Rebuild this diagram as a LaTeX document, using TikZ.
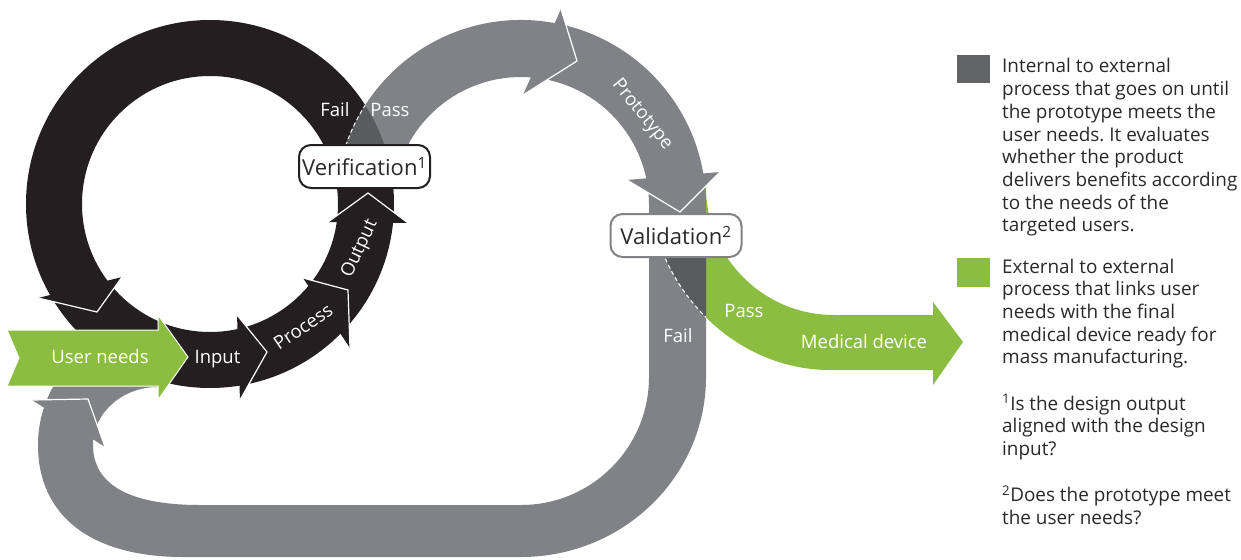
\documentclass[tikz,border=0pt]{standalone}
\usepackage{fontspec}
\setmainfont{Open Sans}
\usetikzlibrary{calc}
\definecolor{inkblack}{HTML}{231F20}
\definecolor{midgray}{HTML}{808285}
\definecolor{deepgray}{HTML}{5A5B5D}
\definecolor{keygray}{HTML}{636466}
\definecolor{leaf}{HTML}{8BBD40}
\definecolor{txtdark}{HTML}{2B2829}
\frenchspacing
\tikzset{
  lbl/.style={text=white, font=\fontsize{18.5}{22}\selectfont, inner sep=0},
  headedge/.style={draw=white, line width=1.2pt, line join=miter},
  seam/.style={draw=white, line width=1pt, dash pattern=on 4pt off 3pt},
  gatebox/.style={rounded corners=12pt, fill=white, line width=2pt,
    minimum width=131pt, minimum height=43pt, inner sep=0, text=txtdark,
    font=\fontsize{22}{26}\selectfont},
  keytext/.style={anchor=base west, inner sep=0, text=txtdark,
    font=\fontsize{18.9}{22}\selectfont},
}
\begin{document}
\begin{tikzpicture}[x=1pt,y=-1pt]
\useasboundingbox (0,0) rectangle (1241,559);
\coordinate (bc) at (210,204);   % centre of the design loop
\coordinate (gc) at (521,205);   % centre of the prototype arc

% green band: pass -> medical device
\fill[leaf] (650,205) .. controls (662,295) and (738,370) .. (830,370)
  -- (933,370) -- (933,385) -- (963,342) -- (933,302) -- (933,315) -- (834,315)
  arc[start angle=90, end angle=180, radius=128] -- cycle;

% grey return loop: fail -> back to user needs
\fill[midgray] (706,205) -- (706,377)
  arc[start angle=0, end angle=90, x radius=185, y radius=180]
  -- (183,557) .. controls (90,557) and (38,515) .. (38,445)
  arc[start angle=180, end angle=270, radius=120] -- (158,387)
  arc[start angle=270, end angle=180, x radius=65, y radius=58]
  .. controls (93,485) and (130,505) .. (200,505) -- (521,505)
  arc[start angle=90, end angle=0, radius=128] -- (649,205) -- cycle;

% overlap of the green band with the grey column
\begin{scope}
  \clip (649,214) rectangle (706,420);
  \fill[deepgray] (650,205) .. controls (662,295) and (738,370) .. (830,370)
    -- (933,370) -- (933,315) -- (834,315)
    arc[start angle=90, end angle=180, radius=128] -- cycle;
  \draw[seam] (650,205) .. controls (662,295) and (738,370) .. (830,370);
\end{scope}

% black design loop
\fill[inkblack, even odd rule] (bc) circle[radius=184] (bc) circle[radius=128];
% chevron heads on the black loop
\fill[inkblack] (237,315) -- (267,352) -- (240,400) -- cycle;
\draw[headedge] (237,315) -- (267,352) -- (240,400);
\fill[inkblack] (303,278) -- (348,290) -- (350,348) -- cycle;
\draw[headedge] (303,278) -- (348,290) -- (350,348);
\fill[inkblack] (328,222) -- (368,193) -- (408,223) -- cycle;
\draw[headedge] (328,222) -- (368,193) -- (408,223);
\fill[inkblack] (122,277) -- (97,312) -- (38,298) -- cycle;
\draw[headedge] (122,277) -- (97,312) -- (38,298);

% grey arc: pass -> prototype
\fill[midgray] ($(gc)+(190:185)$) arc[start angle=190, end angle=360, radius=185]
  -- ++(-57,0) arc[start angle=360, end angle=190, radius=128] -- cycle;
\begin{scope}
  \clip (bc) circle[radius=184];
  \fill[deepgray] ($(gc)+(190:185)$) arc[start angle=190, end angle=360, radius=185]
    -- ++(-57,0) arc[start angle=360, end angle=190, radius=128] -- cycle;
  \draw[seam] ($(gc)+(190:185)$) arc[start angle=190, end angle=300, radius=185];
\end{scope}

% chevron heads on the grey paths
\fill[midgray] (561,9) -- (577,61) -- (523,95) -- cycle;
\draw[headedge] (561,9) -- (577,61) -- (523,95);
\fill[midgray] (627,180) -- (680,212) -- (720,172) -- cycle;
\draw[headedge] (627,180) -- (680,212) -- (720,172);
\fill[midgray] (32,400) -- (88,399) -- (105,447) -- cycle;
\draw[headedge] (32,400) -- (88,399) -- (105,447);

% user needs arrow
\fill[leaf, draw=white, line width=1pt] (7,330) -- (158,330) -- (158,315) -- (188,357)
  -- (158,400) -- (158,386) -- (7,386) -- (19,358) -- cycle;

% decision boxes
\node[gatebox, draw=inkblack] (ver) at (364.5,166.5) {Verification\textsuperscript{1}};
\node[gatebox, draw=midgray] (val) at (676,235.5) {Validation\textsuperscript{2}};

% labels on the arrows
\node[lbl, anchor=base] (failtop) at (335,117) {Fail};
\node[lbl, anchor=base] (passtop) at (390,117) {Pass};
\node[lbl, anchor=base] (userneeds) at (100,363) {User needs};
\node[lbl, anchor=base] (input) at (217.5,363) {Input};
\node[lbl, rotate=34] (process) at (303,327) {Process};
\node[lbl, rotate=65] (output) at (360,249) {Output};
\node[lbl, rotate=-51] (proto) at (642,115) {Prototype};
\node[lbl, anchor=base] (passgreen) at (744,317) {Pass};
\node[lbl, anchor=base] (failgray) at (678,342) {Fail};
\node[lbl, anchor=base] (meddev) at (864,348) {Medical device};

% key
\fill[keygray] (957,55) rectangle (990,83);
\fill[leaf] (957,258) rectangle (990,287);
\foreach \t [count=\i from 0] in {{Internal to external},{process that goes on until},
  {the prototype meets the},{user needs. It evaluates},{whether the product},
  {delivers benefits according},{to the needs of the},{targeted users.}}
  \node[keytext] (ka\i) at (1002,{73+22.7*\i}) {\t};
\foreach \t [count=\i from 0] in {{External to external},{process that links user},
  {needs with the final},{medical device ready for},{mass manufacturing.}}
  \node[keytext] (kb\i) at (1002,{273+22.7*\i}) {\t};
\foreach \t [count=\i from 0] in {{\textsuperscript{1}Is the design output},
  {aligned with the design},{input?}}
  \node[keytext] (kc\i) at (1002,{410+22.7*\i}) {\t};
\foreach \t [count=\i from 0] in {{\textsuperscript{2}Does the prototype meet},
  {the user needs?}}
  \node[keytext] (kd\i) at (1002,{501.7+22.7*\i}) {\t};
\end{tikzpicture}
\end{document}
